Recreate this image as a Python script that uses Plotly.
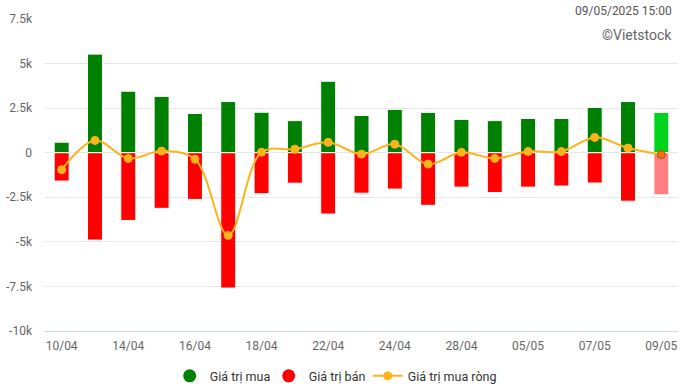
import plotly.graph_objects as go

dates = ["10/04", "11/04", "14/04", "15/04", "16/04", "17/04", "18/04", "21/04", "22/04", "23/04",
         "24/04", "25/04", "28/04", "29/04", "05/05", "06/05", "07/05", "08/05", "09/05"]
buy = [590, 5530, 3450, 3160, 2200, 2870, 2270, 1800, 4010, 2090,
       2430, 2260, 1870, 1800, 1920, 1920, 2540, 2870, 2260]
sell = [-1590, -4900, -3800, -3120, -2620, -7590, -2300, -1710, -3440, -2270,
        -2040, -2950, -1930, -2230, -1930, -1870, -1700, -2720, -2360]
net = [-950, 690, -320, 90, -370, -4640, 30, 200, 580, -80,
       480, -640, 20, -320, 70, 70, 860, 260, -100]
tick_dates = dates[::2]
y_ticks = [-10000, -7500, -5000, -2500, 0, 2500, 5000, 7500]
y_labels = ["-10k", "-7.5k", "-5k", "-2.5k", "0", "2.5k", "5k", "7.5k"]

n = len(dates)
buy_colors = ["#008000"] * (n - 1) + ["#00d31c"]
sell_colors = ["#ff0000"] * (n - 1) + ["#ff8080"]
net_colors = ["#ffb31a"] * (n - 1) + ["#f5720f"]
net_line_colors = ["#ffb31a"] * (n - 1) + ["#a0520a"]

fig = go.Figure()
fig.add_trace(go.Bar(x=dates, y=buy, name="Giá trị mua", marker=dict(color=buy_colors, line=dict(color="white", width=1)),
                     width=0.45, showlegend=False))
fig.add_trace(go.Bar(x=dates, y=sell, name="Giá trị bán", marker=dict(color=sell_colors, line=dict(color="white", width=1)),
                     width=0.45, showlegend=False))
fig.add_trace(go.Scatter(x=[None], y=[None], mode="markers", name="Giá trị mua",
                         marker=dict(color="#008000", size=13, symbol="circle")))
fig.add_trace(go.Scatter(x=[None], y=[None], mode="markers", name="Giá trị bán",
                         marker=dict(color="#ff0000", size=13, symbol="circle")))
fig.add_trace(go.Scatter(x=dates, y=net, name="Giá trị mua ròng", mode="lines+markers",
                         line=dict(color="#ffb31a", width=2, shape="spline", smoothing=1),
                         marker=dict(color=net_colors, size=8, line=dict(color=net_line_colors, width=1))))
# spacer entry so the last legend label is not clipped
fig.add_trace(go.Scatter(x=[None], y=[None], mode="markers", name=" ",
                         marker=dict(color="rgba(0,0,0,0)", size=1), hoverinfo="skip"))

fig.update_layout(
    width=685, height=391,
    margin=dict(l=45, r=7, t=18.5, b=60.3, autoexpand=False),
    paper_bgcolor="white", plot_bgcolor="white",
    barmode="relative",
    font=dict(family="Roboto", size=12, color="#666666"),
    showlegend=True,
    legend=dict(orientation="h", x=0.197, xanchor="left", y=-0.145, yanchor="middle",
                font=dict(size=12.5, color="#333333"), itemsizing="trace", traceorder="normal",
                entrywidth=54, entrywidthmode="pixels"),
    xaxis=dict(type="category", range=[-0.5, n - 0.5], tickvals=tick_dates, ticktext=tick_dates,
               showgrid=False, showline=True, linecolor="#ccd6eb", linewidth=1, ticks="",
               tickfont=dict(size=12, color="#666666"), automargin=False, ticklabelstandoff=4),
    yaxis=dict(range=[-10000, 7500], tickvals=y_ticks, ticktext=y_labels, showgrid=True,
               gridcolor="#e6e6e6", gridwidth=1, zeroline=False, ticks="",
               tickfont=dict(size=12, color="#666666"), ticklabelstandoff=12, automargin=False),
    annotations=[
        dict(text="09/05/2025 15:00", xref="paper", yref="paper", x=1, y=1.0, xanchor="right", yanchor="middle",
             xshift=-4, yshift=8, showarrow=False, font=dict(size=12, color="#555555")),
        dict(text="©Vietstock", xref="paper", yref="paper", x=1, y=1.0, xanchor="right", yanchor="middle",
             xshift=-4, yshift=-16, showarrow=False, font=dict(size=14, color="#666666")),
    ],
)
fig.write_html("out.html", config={"displayModeBar": False},
               post_script="document.body.style.margin='0';")
